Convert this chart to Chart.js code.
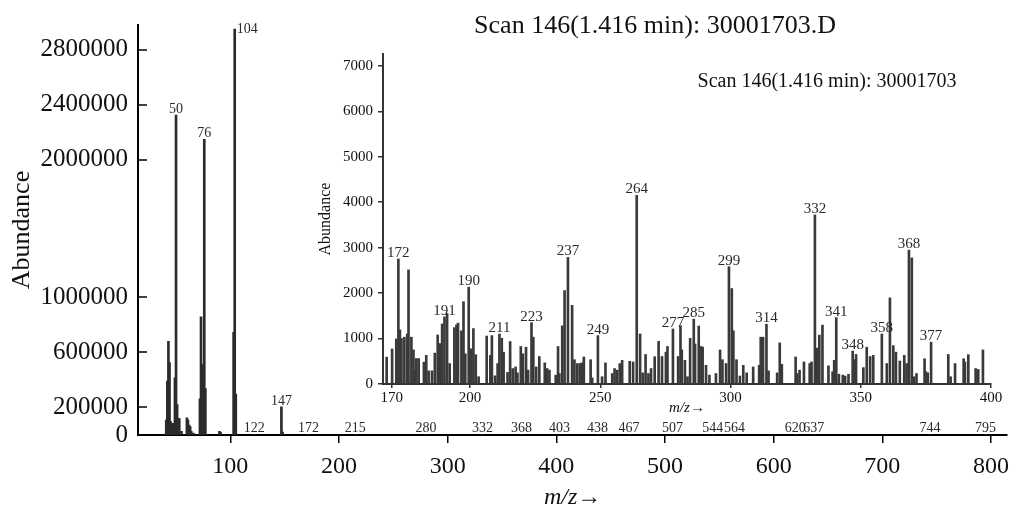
<!DOCTYPE html>
<html><head><meta charset="utf-8">
<script src="https://cdn.jsdelivr.net/npm/chart.js@4.4.1/dist/chart.umd.min.js"></script>
<style>
html,body{margin:0;padding:0;background:#fff;}
#wrap{position:relative;width:1011px;height:508px;overflow:hidden;background:#fff;}
#main{position:absolute;left:0;top:0;}
#inset{position:absolute;left:300px;top:40px;}
</style></head><body>
<div id="wrap"><canvas id="main" width="1011" height="508"></canvas><canvas id="inset" width="705" height="377"></canvas></div>
<script>
const SERIF = '"Liberation Serif", "Times New Roman", serif';
const mainTitle = 'Scan 146(1.416 min): 30001703.D';
const insetTitle = 'Scan 146(1.416 min): 30001703';
const axisTitleX = 'm/z\u2192';
const axisTitleY = 'Abundance';

// main spectrum
const mainMz = [41,42,43,44,45,46,47,49,50,51,52,53,55,60,61,62,63,64,66,72,73,74,76,77,90,91,103,104,105,122,147,148,172,215,280,332,368,403,438,467,507,544,564,620,637,744,795];
const mainAbundance = [109000,392000,681000,527000,97000,73000,85000,416000,2326000,222000,120000,120000,26000,125000,109000,73000,61000,26000,14000,262000,858000,511000,2149000,338000,26000,19000,747000,2950000,298000,5000,205000,22000,5000,5000,5000,5000,5000,5000,5000,5000,5000,5000,5000,5000,5000,5000,5000];
const mainLabelMz = [50,76,104,147,122,172,215,280,332,368,403,438,467,507,544,564,620,637,744,795];
const mainLabelText = ['50','76','104','147','122','172','215','280','332','368','403','438','467','507','544','564','620','637','744','795'];
const mainXTicks = [100,200,300,400,500,600,700,800];
const mainYTicks = [0,200000,600000,1000000,2000000,2400000,2800000];

// inset spectrum (m/z 170-400)
const insetMz = [168.0,170.1,171.7,172.5,173.1,173.7,174.8,175.9,176.4,177.5,
178.3,178.9,179.4,180.3,182.3,183.2,184.1,185.4,186.5,187.6,
188.5,188.9,189.3,190.2,191.2,192.2,194.0,194.8,195.4,196.7,
197.5,198.2,199.5,200.4,201.3,202.2,203.3,206.4,207.8,208.4,
209.6,210.6,211.3,212.2,212.9,214.4,215.4,216.4,217.5,218.2,
219.5,220.3,221.5,222.3,223.6,224.3,225.4,226.6,228.7,229.6,
230.5,232.9,233.8,234.3,235.4,236.3,237.6,239.2,240.1,241.2,
242.2,242.9,243.7,246.3,246.9,249.1,250.7,252.0,254.6,255.5,
256.5,257.5,258.4,261.3,262.6,264.0,265.3,266.3,267.4,268.5,
269.5,270.9,272.4,273.7,275.2,275.8,277.9,279.9,280.8,281.3,
282.5,283.5,284.5,285.9,286.4,287.8,288.7,289.3,290.6,291.9,
294.4,296.0,296.9,298.3,299.4,300.5,301.1,302.3,303.6,304.9,
306.2,308.7,311.0,311.6,312.5,313.8,314.6,317.9,318.9,319.7,
325.0,325.6,326.5,328.2,330.4,331.1,332.4,333.2,334.1,335.3,
337.6,339.2,339.8,340.6,341.6,343.1,344.0,345.3,346.9,347.4,
348.2,351.0,352.3,353.6,354.8,358.1,360.0,361.2,362.5,363.5,
365.0,366.7,367.6,368.5,369.6,370.4,371.4,374.5,375.0,375.7,
377.0,383.6,384.5,386.2,389.5,390.0,391.3,394.1,395.1,396.9];
const insetAbundance = [590,770,990,2750,1190,1000,1030,1100,2510,1030,
750,300,560,560,480,630,290,290,680,1080,
890,630,1320,1475,1550,450,1240,1300,1340,1170,
1810,665,2130,775,1220,645,160,1055,630,1065,
180,450,1100,1005,700,255,935,340,375,245,
825,665,810,305,1350,1030,375,605,465,340,
305,195,825,230,1280,2055,2785,1730,535,450,
450,465,595,535,135,1065,160,465,230,340,
305,450,520,500,485,4150,1100,245,650,230,
340,600,940,605,700,825,1210,605,1280,750,
520,160,1005,1425,880,1275,825,810,410,195,
230,750,535,450,2580,2100,1170,535,175,410,
245,375,410,1030,1030,1315,290,245,905,435,
595,230,305,485,450,485,3720,790,1075,1295,
400,270,520,1460,215,195,175,215,725,535,
650,360,810,605,630,1100,450,1895,845,700,
505,630,450,2945,2775,160,230,555,270,245,
920,650,160,450,555,485,645,340,320,750];
const insetLabelMz = [172.5,190.2,199.5,211.3,223.6,237.6,249.1,264.0,277.9,285.9,299.4,313.8,332.4,340.6,346.9,358.1,368.5,377.0];
const insetLabelText = ['172','191','190','211','223','237','249','264','277','285','299','314','332','341','348','358','368','377'];
const insetXTicks = [170,200,250,300,350,400];
const insetYTicks = [0,1000,2000,3000,4000,5000,6000,7000];

function peakLabels(id, xs, ys, lmz, ltext, fontPx) {
  return {
    id,
    afterDatasetsDraw(chart) {
      const {ctx, scales: {x, y}, chartArea} = chart;
      ctx.save();
      ctx.font = fontPx + 'px ' + SERIF;
      ctx.fillStyle = '#2a2a2a';
      ctx.textBaseline = 'alphabetic';
      lmz.forEach((m, i) => {
        const k = xs.indexOf(m);
        const px = x.getPixelForValue(m);
        const py = y.getPixelForValue(ys[k]);
        let tx = px, ty = py - 2;
        ctx.textAlign = 'center';
        if (ty - fontPx * 0.7 < chartArea.top) { ctx.textAlign = 'left'; tx = px + 2; ty = py + 4; }
        ctx.fillText(ltext[i], tx, ty);
      });
      ctx.restore();
    }
  };
}

function textPlugin(id, text, cx, cy, fontPx) {
  return {
    id,
    afterDraw(chart) {
      const ctx = chart.ctx;
      ctx.save();
      ctx.font = fontPx + 'px ' + SERIF;
      ctx.fillStyle = '#111';
      ctx.textAlign = 'center';
      ctx.textBaseline = 'middle';
      ctx.fillText(text, cx, cy);
      ctx.restore();
    }
  };
}

const inwardYTicks = {
  id: 'inwardYTicks',
  afterDraw(chart) {
    const y = chart.scales.y, ctx = chart.ctx;
    ctx.save();
    ctx.strokeStyle = '#000';
    ctx.lineWidth = 1.5;
    y.ticks.forEach(t => {
      const py = Math.round(y.getPixelForValue(t.value));
      ctx.beginPath();
      ctx.moveTo(y.right, py);
      ctx.lineTo(y.right + 9, py);
      ctx.stroke();
    });
    ctx.restore();
  }
};

new Chart(document.getElementById('main'), {
  type: 'bar',
  data: { datasets: [{
    data: mainMz.map((m, i) => ({x: m, y: mainAbundance[i]})),
    backgroundColor: '#2b2b2b', borderWidth: 0, barThickness: 2
  }]},
  options: {
    responsive: false, animation: false, devicePixelRatio: 1,
    layout: { padding: { top: 15, right: 3, left: 0, bottom: 0 } },
    plugins: { legend: { display: false }, tooltip: { enabled: false } },
    scales: {
      x: {
        type: 'linear', min: 15, max: 815, offset: false,
        afterBuildTicks: s => { s.ticks = mainXTicks.map(v => ({value: v})); },
        afterFit: s => { s.height = 73; },
        grid: { display: true, drawOnChartArea: false, drawTicks: true, tickLength: 8, color: '#000', lineWidth: 1.5, offset: false },
        border: { display: true, color: '#000', width: 2 },
        ticks: { font: { family: SERIF, size: 24, lineHeight: 1.8 }, color: '#111', padding: 2, maxRotation: 0, autoSkip: false, callback: v => String(v) },
        title: { display: true, text: axisTitleX, font: { family: SERIF, size: 24, style: 'italic', lineHeight: 0.9 }, color: '#111', padding: { top: 0, bottom: 0 } }
      },
      y: {
        type: 'linear', min: 0, max: 2980000,
        afterBuildTicks: s => { s.ticks = mainYTicks.map(v => ({value: v})); },
        afterFit: s => { s.width = 138; },
        grid: { display: true, drawOnChartArea: false, drawTicks: false },
        border: { display: true, color: '#000', width: 2 },
        ticks: { font: { family: SERIF, size: 25 }, color: '#111', padding: 10, autoSkip: false, callback: v => String(v) },
        title: { display: true, text: axisTitleY, font: { family: SERIF, size: 26 }, color: '#111', padding: { top: 7, bottom: 0 } }
      }
    }
  },
  plugins: [inwardYTicks, peakLabels('mainLabels', mainMz, mainAbundance, mainLabelMz, mainLabelText, 14), textPlugin('mainTitle', mainTitle, 655, 26, 26)]
});

new Chart(document.getElementById('inset'), {
  type: 'bar',
  data: { datasets: [{
    data: insetMz.map((m, i) => ({x: m, y: insetAbundance[i]})),
    backgroundColor: '#3a3a3a', borderWidth: 0, barThickness: 2
  }]},
  options: {
    responsive: false, animation: false, devicePixelRatio: 1,
    layout: { padding: { top: 9, right: 14, left: 0, bottom: 0 } },
    plugins: { legend: { display: false }, tooltip: { enabled: false } },
    scales: {
      x: {
        type: 'linear', min: 166.6, max: 400, offset: false,
        afterBuildTicks: s => { s.ticks = insetXTicks.map(v => ({value: v})); },
        afterFit: s => { s.height = 33; },
        grid: { display: true, drawOnChartArea: false, drawTicks: true, tickLength: 4, color: '#333', lineWidth: 1.5, offset: false },
        border: { display: true, color: '#333', width: 2 },
        ticks: { font: { family: SERIF, size: 15 }, color: '#111', padding: 1, maxRotation: 0, autoSkip: false, callback: v => String(v) },
        title: { display: true, text: axisTitleX, font: { family: SERIF, size: 15, style: 'italic' }, color: '#111', padding: { top: 0, bottom: 0 } }
      },
      y: {
        type: 'linear', min: 0, max: 7260,
        afterBuildTicks: s => { s.ticks = insetYTicks.map(v => ({value: v})); },
        afterFit: s => { s.width = 83; },
        grid: { display: true, drawOnChartArea: false, drawTicks: true, tickLength: 5, color: '#333', lineWidth: 1.5 },
        border: { display: true, color: '#333', width: 2 },
        ticks: { font: { family: SERIF, size: 15 }, color: '#111', padding: 5, autoSkip: false, callback: v => String(v) },
        title: { display: true, text: axisTitleY, font: { family: SERIF, size: 16 }, color: '#111', padding: { top: 16, bottom: 0 } }
      }
    }
  },
  plugins: [peakLabels('insetLabels', insetMz, insetAbundance, insetLabelMz, insetLabelText, 15), textPlugin('insetTitle', insetTitle, 527, 42, 20)]
});
</script>
</body></html>
